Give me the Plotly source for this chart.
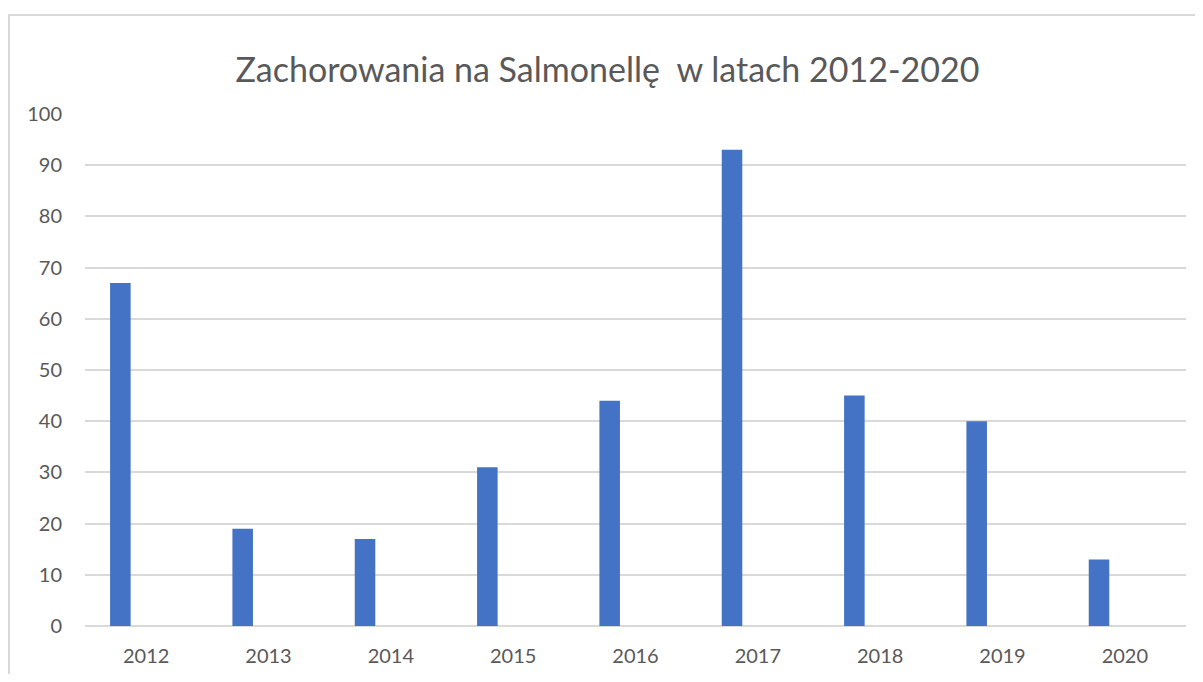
import plotly.graph_objects as go

years = ['2012', '2013', '2014', '2015', '2016', '2017', '2018', '2019', '2020']
cases = [67, 19, 17, 31, 44, 93, 45, 40, 13]
y_ticks = [0, 10, 20, 30, 40, 50, 60, 70, 80, 90, 100]

# page body has an 8px margin, so the figure is sized a bit smaller
W, H = 1187, 666
ml, mr, mt, mb = 77, 9, 106, 48
pw, ph = W - ml - mr, H - mt - mb

fig = go.Figure()
fig.add_trace(go.Bar(x=years, y=cases, marker_color='#4472C4',
                     marker_line_width=0, width=0.168, offset=-0.295))

# outer chart frame like the Excel chart area
fig.add_shape(type='rect', xref='paper', yref='paper',
              x0=(1 - ml) / pw, x1=1.2, y0=-0.5, y1=1 + (mt - 7) / ph,
              line=dict(color='#D9D9D9', width=2), layer='below')

fig.update_layout(
    title=dict(text='Zachorowania na Salmonellę  w latach 2012-2020', x=0.505, xanchor='center',
               y=1 - 62 / H, yanchor='middle',
               font=dict(family='Lato', size=34, color='#595959')),
    width=W, height=H,
    margin=dict(l=ml, r=mr, t=mt, b=mb),
    plot_bgcolor='white', paper_bgcolor='white',
    showlegend=False,
    font=dict(family='Lato', size=20, color='#595959'),
)
fig.update_xaxes(showgrid=False, showline=False, ticks='', ticklabelstandoff=16,
                 automargin=False)
fig.update_yaxes(range=[0, 100], tickvals=y_ticks, gridcolor='#D9D9D9', gridwidth=2,
                 zeroline=True, zerolinecolor='#D9D9D9', zerolinewidth=2,
                 showline=False, ticks='', ticklabelstandoff=22, automargin=False)

fig.write_html("out.html")
